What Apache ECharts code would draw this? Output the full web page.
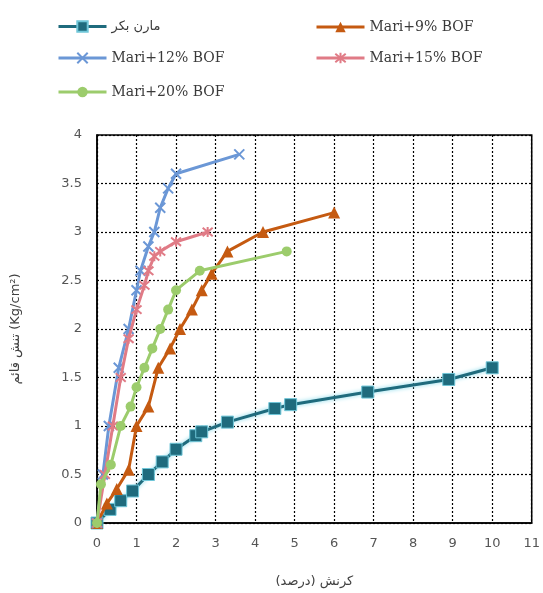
<!DOCTYPE html>
<html><head><meta charset="utf-8">
<script src="https://cdn.jsdelivr.net/npm/echarts@6/dist/echarts.min.js"></script>
<style>html,body{margin:0;padding:0;background:#fff}#c{width:543px;height:593px}</style>
</head><body><div id="c"></div>
<script>
const seriesNames = ['مارن بکر', 'Mari+9% BOF', 'Mari+12% BOF', 'Mari+15% BOF', 'Mari+20% BOF'];
const xTicks = [0,1,2,3,4,5,6,7,8,9,10,11];
const yTicks = [0,0.5,1,1.5,2,2.5,3,3.5,4];
const marlX = [0,0.33,0.6,0.9,1.3,1.65,2.0,2.5,2.65,3.3,4.5,4.9,6.85,8.9,10.0];
const marlY = [0,0.14,0.23,0.33,0.5,0.63,0.76,0.9,0.94,1.04,1.18,1.22,1.35,1.48,1.6];
const bof9X = [0,0.25,0.5,0.8,1.0,1.3,1.55,1.85,2.1,2.4,2.65,2.9,3.3,4.2,6.0];
const bof9Y = [0,0.2,0.35,0.55,1.0,1.2,1.6,1.8,2.0,2.2,2.4,2.57,2.8,3.0,3.2];
const bof12X = [0,0.15,0.3,0.55,0.8,1.0,1.1,1.3,1.45,1.6,1.8,2.0,3.6];
const bof12Y = [0,0.5,1.0,1.6,2.0,2.4,2.6,2.85,3.0,3.25,3.45,3.6,3.8];
const bof15X = [0,0.2,0.4,0.6,0.8,1.0,1.2,1.3,1.45,1.6,2.0,2.8];
const bof15Y = [0,0.5,1.0,1.5,1.9,2.2,2.45,2.6,2.75,2.8,2.9,3.0];
const bof20X = [0,0.1,0.35,0.6,0.85,1.0,1.2,1.4,1.6,1.8,2.0,2.6,4.8];
const bof20Y = [0,0.4,0.6,1.0,1.2,1.4,1.6,1.8,2.0,2.2,2.4,2.6,2.8];

const zip = (a,b) => a.map((v,i)=>[v,b[i]]);
const colors = ['#1f6b7d','#c55a11','#6b97d6','#e07b86','#9ccc6c'];
const chart = echarts.init(document.getElementById('c'));
const legPos = [[52,15],[310,15],[52,46],[310,46],[52,80]];
const legends = seriesNames.map((n,i)=>({
  data:[n], left:legPos[i][0], top:legPos[i][1], itemWidth:48, itemHeight:13, itemGap:6,
  textStyle:{fontFamily:i===0?'DejaVu Sans':'DejaVu Serif', fontSize:i===0?13:14, color:'#3a3a3a'},
  lineStyle:{width:3}, selectedMode:false
}));
const xPath = 'path://M0,0L10,10M10,0L0,10';
const starPath = 'path://M0,0L10,10M10,0L0,10M5,-1L5,11';
chart.setOption({
  animation:false,
  color:colors,
  legend:legends,
  grid:{left:97,right:11,top:135,bottom:69,show:true,borderColor:'#000',borderWidth:1.5},
  xAxis:{type:'value',min:0,max:11,interval:1,
    axisLine:{show:true,onZero:false,lineStyle:{color:'#000',width:1.5}},
    axisTick:{show:false},
    axisLabel:{color:'#555',fontSize:13,margin:14,fontFamily:'DejaVu Sans',formatter:v=>xTicks.includes(v)?String(v):''},
    splitLine:{show:true,lineStyle:{color:'#000',type:[2,2],width:1.2}},
    name:'کرنش (درصد)',nameLocation:'middle',nameGap:52,
    nameTextStyle:{fontSize:13,color:'#404040',fontFamily:'DejaVu Sans'}},
  yAxis:{type:'value',min:0,max:4,interval:0.5,
    axisLine:{show:true,lineStyle:{color:'#000',width:1.5}},
    axisTick:{show:false},
    axisLabel:{color:'#555',fontSize:13,margin:15,fontFamily:'DejaVu Sans',formatter:v=>yTicks.includes(v)?String(v):''},
    splitLine:{show:true,lineStyle:{color:'#000',type:[2,2],width:1.2}},
    name:'تنش قائم (Kg/cm²)',nameLocation:'middle',nameGap:75,nameRotate:90,
    nameTextStyle:{fontSize:13,color:'#404040',fontFamily:'DejaVu Sans'}},
  series:[
    {name:seriesNames[0],type:'line',data:zip(marlX,marlY),symbol:'rect',symbolSize:12,
      lineStyle:{width:3,color:colors[0],shadowColor:'#7fd8ea',shadowBlur:4},
      itemStyle:{color:colors[0],borderColor:'#6fc6d8',borderWidth:1},z:2},
    {name:seriesNames[1],type:'line',data:zip(bof9X,bof9Y),symbol:'triangle',symbolSize:12,
      lineStyle:{width:3,color:colors[1]},itemStyle:{color:colors[1]},z:3},
    {name:seriesNames[2],type:'line',data:zip(bof12X,bof12Y),symbol:xPath,symbolSize:10,
      lineStyle:{width:3,color:colors[2]},itemStyle:{color:colors[2],borderColor:colors[2],borderWidth:2},z:4},
    {name:seriesNames[3],type:'line',data:zip(bof15X,bof15Y),symbol:starPath,symbolSize:10,
      lineStyle:{width:3,color:colors[3]},itemStyle:{color:colors[3],borderColor:colors[3],borderWidth:2},z:5},
    {name:seriesNames[4],type:'line',data:zip(bof20X,bof20Y),symbol:'circle',symbolSize:10,
      lineStyle:{width:3,color:colors[4]},itemStyle:{color:colors[4]},z:6}
  ]
});
</script></body></html>
